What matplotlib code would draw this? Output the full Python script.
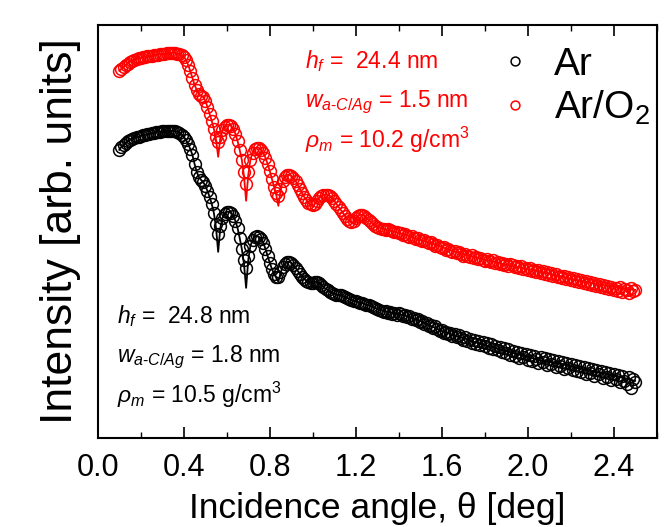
import numpy as np
import matplotlib
matplotlib.use("Agg")
import matplotlib.pyplot as plt
from matplotlib.ticker import MultipleLocator, FormatStrFormatter

plt.rcParams['font.family'] = ['Liberation Sans', 'DejaVu Sans']
plt.rcParams['mathtext.fontset'] = 'custom'
plt.rcParams['mathtext.rm'] = 'Liberation Sans'
plt.rcParams['mathtext.it'] = 'Liberation Sans:italic'
plt.rcParams['mathtext.bf'] = 'Liberation Sans:bold'

# Measured reflectivity, log10 intensity (arb. units), theta = 0.10 ... 2.50 deg
theta = np.round(np.arange(0.10, 2.5001, 0.01), 2)

ar_meas = [
    3.50, 3.53, 3.55, 3.57, 3.59, 3.60, 3.61, 3.62, 3.63, 3.63,
    3.64, 3.65, 3.65, 3.66, 3.66, 3.67, 3.67, 3.68, 3.68, 3.68,
    3.69, 3.69, 3.69, 3.69, 3.69, 3.69, 3.69, 3.68, 3.67, 3.65,
    3.63, 3.60, 3.56, 3.51, 3.45, 3.36, 3.28, 3.23, 3.20, 3.18,
    3.14, 3.09, 3.03, 2.96, 2.87, 2.76, 2.66, 2.74, 2.82, 2.86,
    2.88, 2.88, 2.87, 2.84, 2.79, 2.72, 2.62, 2.51, 2.40, 2.32,
    2.44, 2.54, 2.60, 2.63, 2.64, 2.63, 2.61, 2.57, 2.51, 2.44,
    2.37, 2.31, 2.26, 2.23, 2.23, 2.28, 2.33, 2.36, 2.38, 2.38,
    2.37, 2.35, 2.32, 2.29, 2.26, 2.23, 2.21, 2.19, 2.18, 2.17,
    2.17, 2.18, 2.18, 2.17, 2.15, 2.13, 2.11, 2.10, 2.08, 2.07,
    2.06, 2.05, 2.05, 2.05, 2.04, 2.03, 2.02, 2.01, 2.00, 1.99,
    1.99, 1.98, 1.97, 1.97, 1.96, 1.95, 1.95, 1.94, 1.93, 1.92,
    1.91, 1.90, 1.89, 1.88, 1.89, 1.87, 1.88, 1.86, 1.87, 1.85,
    1.87, 1.86, 1.84, 1.85, 1.83, 1.84, 1.81, 1.82, 1.80, 1.81,
    1.78, 1.79, 1.76, 1.77, 1.74, 1.75, 1.72, 1.74, 1.71, 1.69,
    1.70, 1.67, 1.68, 1.66, 1.67, 1.64, 1.66, 1.63, 1.65, 1.62,
    1.60, 1.63, 1.59, 1.61, 1.57, 1.60, 1.56, 1.59, 1.55, 1.58,
    1.54, 1.57, 1.52, 1.56, 1.51, 1.54, 1.50, 1.53, 1.48, 1.52,
    1.47, 1.51, 1.45, 1.49, 1.44, 1.48, 1.42, 1.47, 1.43, 1.46,
    1.40, 1.45, 1.39, 1.44, 1.41, 1.37, 1.43, 1.38, 1.42, 1.35,
    1.41, 1.36, 1.40, 1.33, 1.39, 1.34, 1.38, 1.31, 1.37, 1.32,
    1.36, 1.30, 1.35, 1.29, 1.34, 1.28, 1.33, 1.26, 1.32, 1.27,
    1.31, 1.24, 1.30, 1.26, 1.29, 1.22, 1.28, 1.23, 1.27, 1.20,
    1.26, 1.21, 1.25, 1.18, 1.24, 1.19, 1.16, 1.23, 1.12, 1.21,
    1.18,
]

aro2_meas = [
    4.29, 4.31, 4.33, 4.35, 4.36, 4.38, 4.39, 4.40, 4.41, 4.42,
    4.42, 4.43, 4.43, 4.44, 4.44, 4.44, 4.45, 4.45, 4.45, 4.46,
    4.46, 4.46, 4.47, 4.47, 4.47, 4.47, 4.47, 4.46, 4.46, 4.45,
    4.43, 4.40, 4.35, 4.29, 4.22, 4.15, 4.10, 4.06, 4.04, 4.03,
    3.99, 3.93, 3.86, 3.79, 3.71, 3.63, 3.58, 3.63, 3.70, 3.73,
    3.75, 3.75, 3.74, 3.71, 3.66, 3.59, 3.50, 3.40, 3.28, 3.16,
    3.28, 3.40, 3.47, 3.51, 3.52, 3.52, 3.50, 3.47, 3.42, 3.36,
    3.29, 3.21, 3.13, 3.07, 3.04, 3.11, 3.19, 3.23, 3.25, 3.25,
    3.24, 3.22, 3.19, 3.15, 3.11, 3.07, 3.03, 3.00, 2.97, 2.96,
    2.95, 2.96, 2.99, 3.02, 3.04, 3.05, 3.05, 3.05, 3.04, 3.02,
    2.99, 2.96, 2.93, 2.90, 2.87, 2.84, 2.81, 2.79, 2.78, 2.79,
    2.82, 2.84, 2.85, 2.85, 2.84, 2.82, 2.80, 2.78, 2.76, 2.74,
    2.73, 2.72, 2.71, 2.71, 2.70, 2.71, 2.70, 2.69, 2.68, 2.68,
    2.67, 2.67, 2.65, 2.66, 2.64, 2.63, 2.64, 2.62, 2.61, 2.62,
    2.60, 2.59, 2.60, 2.58, 2.57, 2.58, 2.56, 2.54, 2.55, 2.53,
    2.52, 2.53, 2.50, 2.51, 2.49, 2.48, 2.49, 2.47, 2.48, 2.46,
    2.44, 2.46, 2.44, 2.43, 2.45, 2.42, 2.43, 2.41, 2.42, 2.40,
    2.39, 2.41, 2.39, 2.38, 2.40, 2.37, 2.38, 2.36, 2.37, 2.35,
    2.36, 2.34, 2.36, 2.35, 2.33, 2.34, 2.32, 2.34, 2.31, 2.32,
    2.30, 2.32, 2.29, 2.30, 2.28, 2.30, 2.27, 2.29, 2.26, 2.28,
    2.25, 2.27, 2.24, 2.26, 2.23, 2.24, 2.22, 2.24, 2.21, 2.23,
    2.20, 2.22, 2.19, 2.21, 2.18, 2.20, 2.17, 2.19, 2.16, 2.18,
    2.15, 2.17, 2.14, 2.16, 2.13, 2.15, 2.12, 2.14, 2.11, 2.13,
    2.10, 2.12, 2.09, 2.13, 2.08, 2.11, 2.10, 2.07, 2.12, 2.09,
    2.10,
]

# Simulated (fitted) reflectivity curves
fit_theta = np.concatenate([np.round(np.arange(0.10, 1.3001, 0.01), 2),
                            np.round(np.arange(1.35, 2.5001, 0.05), 2)])

ar_fit = [
    3.50, 3.53, 3.55, 3.57, 3.59, 3.60, 3.61, 3.62, 3.63, 3.63,
    3.64, 3.65, 3.65, 3.66, 3.66, 3.67, 3.67, 3.68, 3.68, 3.68,
    3.69, 3.69, 3.69, 3.69, 3.69, 3.69, 3.69, 3.68, 3.67, 3.65,
    3.63, 3.60, 3.56, 3.51, 3.45, 3.36, 3.28, 3.23, 3.20, 3.18,
    3.14, 3.09, 3.03, 2.96, 2.87, 2.72, 2.48, 2.72, 2.82, 2.86,
    2.88, 2.88, 2.87, 2.84, 2.79, 2.72, 2.62, 2.51, 2.36, 2.12,
    2.40, 2.54, 2.60, 2.63, 2.64, 2.63, 2.61, 2.57, 2.51, 2.44,
    2.37, 2.31, 2.26, 2.22, 2.18, 2.27, 2.33, 2.36, 2.38, 2.38,
    2.37, 2.35, 2.32, 2.29, 2.26, 2.23, 2.21, 2.19, 2.18, 2.17,
    2.17, 2.18, 2.18, 2.17, 2.15, 2.13, 2.11, 2.10, 2.08, 2.07,
    2.06, 2.05, 2.05, 2.05, 2.04, 2.03, 2.02, 2.01, 2.00, 1.99,
    1.99, 1.98, 1.97, 1.97, 1.96, 1.95, 1.95, 1.94, 1.93, 1.92,
    1.91,
    1.88, 1.86, 1.83, 1.79, 1.74, 1.69, 1.65, 1.62, 1.58, 1.55,
    1.52, 1.49, 1.46, 1.43, 1.40, 1.38, 1.36, 1.34, 1.31, 1.29,
    1.27, 1.25, 1.22, 1.19,
]

aro2_fit = [
    4.29, 4.31, 4.33, 4.35, 4.36, 4.38, 4.39, 4.40, 4.41, 4.42,
    4.42, 4.43, 4.43, 4.44, 4.44, 4.44, 4.45, 4.45, 4.45, 4.46,
    4.46, 4.46, 4.47, 4.47, 4.47, 4.47, 4.47, 4.46, 4.46, 4.45,
    4.43, 4.40, 4.35, 4.29, 4.22, 4.15, 4.10, 4.06, 4.04, 4.03,
    3.99, 3.93, 3.86, 3.79, 3.71, 3.60, 3.43, 3.62, 3.70, 3.73,
    3.75, 3.75, 3.74, 3.71, 3.66, 3.59, 3.50, 3.40, 3.24, 2.99,
    3.25, 3.40, 3.47, 3.51, 3.52, 3.52, 3.50, 3.47, 3.42, 3.36,
    3.29, 3.21, 3.13, 3.05, 2.94, 3.09, 3.19, 3.23, 3.25, 3.25,
    3.24, 3.22, 3.19, 3.15, 3.11, 3.07, 3.03, 3.00, 2.97, 2.95,
    2.93, 2.96, 2.99, 3.02, 3.04, 3.05, 3.05, 3.05, 3.04, 3.02,
    2.99, 2.96, 2.93, 2.90, 2.87, 2.84, 2.81, 2.79, 2.77, 2.76,
    2.82, 2.84, 2.85, 2.85, 2.84, 2.82, 2.80, 2.78, 2.76, 2.74,
    2.73,
    2.70, 2.67, 2.64, 2.60, 2.57, 2.53, 2.49, 2.46, 2.43, 2.40,
    2.38, 2.35, 2.33, 2.31, 2.29, 2.26, 2.24, 2.21, 2.19, 2.17,
    2.15, 2.13, 2.11, 2.10,
]

series_labels = ["Ar", "Ar/O$_2$"]
series_colors = ["black", "#ff0000"]

fig = plt.figure(figsize=(6.70, 5.27), dpi=100)
ax = fig.add_axes([0.146, 0.169, 0.834, 0.784])

for meas, fit, lab, col in zip([ar_meas, aro2_meas], [ar_fit, aro2_fit],
                               series_labels, series_colors):
    ax.plot(theta, meas, linestyle='none', marker='o', markersize=8.5,
            markerfacecolor='none', markeredgecolor=col, markeredgewidth=1.1,
            label=lab)
    ax.plot(fit_theta, fit, color=col, linewidth=1.3)

ax.set_xlim(0.0, 2.6)
ax.set_ylim(0.62, 4.75)
ax.xaxis.set_major_locator(MultipleLocator(0.4))
ax.xaxis.set_minor_locator(MultipleLocator(0.2))
ax.xaxis.set_major_formatter(FormatStrFormatter('%.1f'))
ax.set_yticks([])
ax.tick_params(axis='x', which='both', direction='in', top=True, bottom=True,
               pad=11, labelsize=22)
ax.tick_params(axis='x', which='major', length=8, width=1.2)
ax.tick_params(axis='x', which='minor', length=4, width=1.0)
for sp in ax.spines.values():
    sp.set_linewidth(1.5)

ax.set_xlabel("Incidence angle, θ [deg]", fontsize=25.5, labelpad=6)
ax.set_ylabel("Intensity [arb. units]", fontsize=32, labelpad=12)

# Fit parameters
tkw = dict(transform=ax.transAxes, fontsize=16.5, va='baseline', ha='left')
red_lines = [r"$h_f$ =  24.4 nm", r"$w_{a‐C/Ag}$ = 1.5 nm",
             r"$\rho_m$ = 10.2 g/cm$^3$"]
blk_lines = [r"$h_f$ =  24.8 nm", r"$w_{a‐C/Ag}$ = 1.8 nm",
             r"$\rho_m$ = 10.5 g/cm$^3$"]
for s, y in zip(red_lines, [0.896, 0.801, 0.702]):
    ax.text(0.370, y, s, color='#ff0000', **tkw)
for s, y in zip(blk_lines, [0.278, 0.184, 0.085]):
    ax.text(0.034, y, s, color='black', **tkw)

leg = ax.legend(loc='upper left', bbox_to_anchor=(0.712, 0.946), frameon=False,
                fontsize=28, handlelength=1.0, handletextpad=0.5,
                labelspacing=0.15, borderpad=0, borderaxespad=0,
                markerscale=0.75)

fig.savefig("out.png", dpi=100, facecolor='white')
